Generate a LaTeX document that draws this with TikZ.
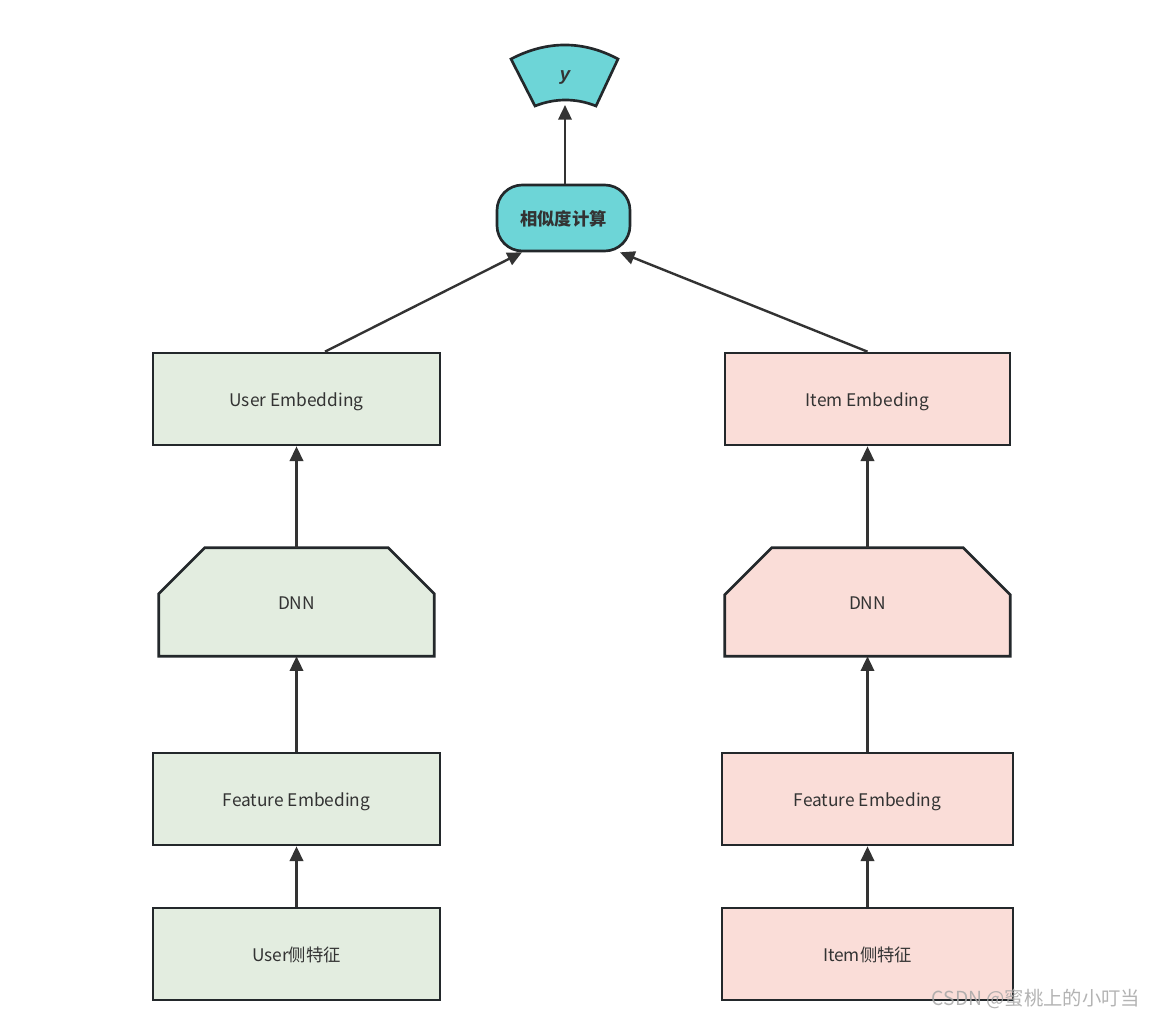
\documentclass[tikz,border=0pt]{standalone}
\usepackage{fontspec}
\setmainfont{Noto Sans CJK SC}
\newfontfamily\yfont{Liberation Sans}
\usetikzlibrary{arrows.meta,calc}
\definecolor{gfill}{RGB}{227,237,224}
\definecolor{pfill}{RGB}{250,221,216}
\definecolor{tfill}{RGB}{109,213,215}
\definecolor{bord}{RGB}{35,40,43}
\definecolor{txt}{RGB}{51,51,51}
\tikzset{
  lbl/.style={text=txt, font=\fontsize{13}{15}\selectfont, text height=11.5pt, text depth=0pt},
  box/.style={draw=bord, line width=2pt, rectangle, minimum height=69pt, lbl, inner sep=0pt},
  ghost/.style={rectangle, minimum height=81pt, lbl, inner sep=0pt},
  conn/.style={draw=txt, line width=1.8pt, -{Triangle[length=11pt,width=10pt]}},
  shp/.style={draw=bord, line width=2pt, line join=miter},
}
\begin{document}
\begin{tikzpicture}[x=0.75pt,y=-0.75pt]
\useasboundingbox (0,0) rectangle (1157,1020);
% left column
\node[box, fill=gfill, minimum width=215.25pt] (userEmb) at (296.5,399) {User Embedding};
\node[ghost, minimum width=206.25pt] (dnnL) at (296.5,602) {};
\node[box, fill=gfill, minimum width=215.25pt] (featL) at (296.5,799) {Feature Embeding};
\node[box, fill=gfill, minimum width=215.25pt] (userF) at (296.5,954) {User侧特征};
% right column
\node[box, fill=pfill, minimum width=213.75pt] (itemEmb) at (867.5,399) {Item Embeding};
\node[ghost, minimum width=213.75pt] (dnnR) at (867.5,602) {};
\node[box, fill=pfill, minimum width=218.25pt] (featR) at (867.5,799) {Feature Embeding};
\node[box, fill=pfill, minimum width=218.25pt] (itemF) at (867.5,954) {Item侧特征};
% DNN polygons
\filldraw[shp, fill=gfill] (dnnL.south west) -- ($(dnnL.north west)+(0,46)$) -- ($(dnnL.north west)+(46,0)$) -- ($(dnnL.north east)+(-46,0)$) -- ($(dnnL.north east)+(0,46)$) -- (dnnL.south east) -- cycle;
\filldraw[shp, fill=pfill] (dnnR.south west) -- ($(dnnR.north west)+(0,47)$) -- ($(dnnR.north west)+(47,0)$) -- ($(dnnR.north east)+(-47,0)$) -- ($(dnnR.north east)+(0,47)$) -- (dnnR.south east) -- cycle;
\node[lbl] (dnnLt) at (dnnL) {DNN};
\node[lbl] (dnnRt) at (dnnR) {DNN};
% similarity
\node[draw=bord, line width=2pt, fill=tfill, rounded corners=19pt, minimum width=99.75pt, minimum height=49.5pt, inner sep=0pt, text=txt, font=\fontsize{13}{15}\selectfont\bfseries, text height=11.5pt, text depth=0pt] (sim) at (563.5,218) {相似度计算};
% y sector
\filldraw[shp, fill=tfill] (511,59) .. controls (547,40.3) and (583,40.3) .. (618,59) -- (596,106) .. controls (576,98) and (555,98) .. (535,106) -- cycle;
\node[text=txt, font=\fontsize{14}{16}\yfont\bfseries\itshape] (yout) at (565,78) {y};
\coordinate (ybot) at (565,105);
% connectors
\draw[conn] (userF.north) -- (featL.south);
\draw[conn] (featL.north) -- (dnnL.south);
\draw[conn] (dnnL.north) -- (userEmb.south);
\draw[conn] (itemF.north) -- (featR.south);
\draw[conn] (featR.north) -- (dnnR.south);
\draw[conn] (dnnR.north) -- (itemEmb.south);
\draw[conn] ($(userEmb.north)+(28.5,0)$) -- ($(sim.south)+(-41.5,0)$);
\draw[conn] (itemEmb.north) -- ($(sim.south)+(56.5,0)$);
\draw[conn] ($(sim.north)+(1.5,0)$) -- (ybot);
% watermark
\node[text=gray!70, opacity=0.85, font=\fontsize{14.5}{17}\selectfont, anchor=east] (wm) at (1145,999) {CSDN @蜜桃上的小叮当};
\end{tikzpicture}
\end{document}
